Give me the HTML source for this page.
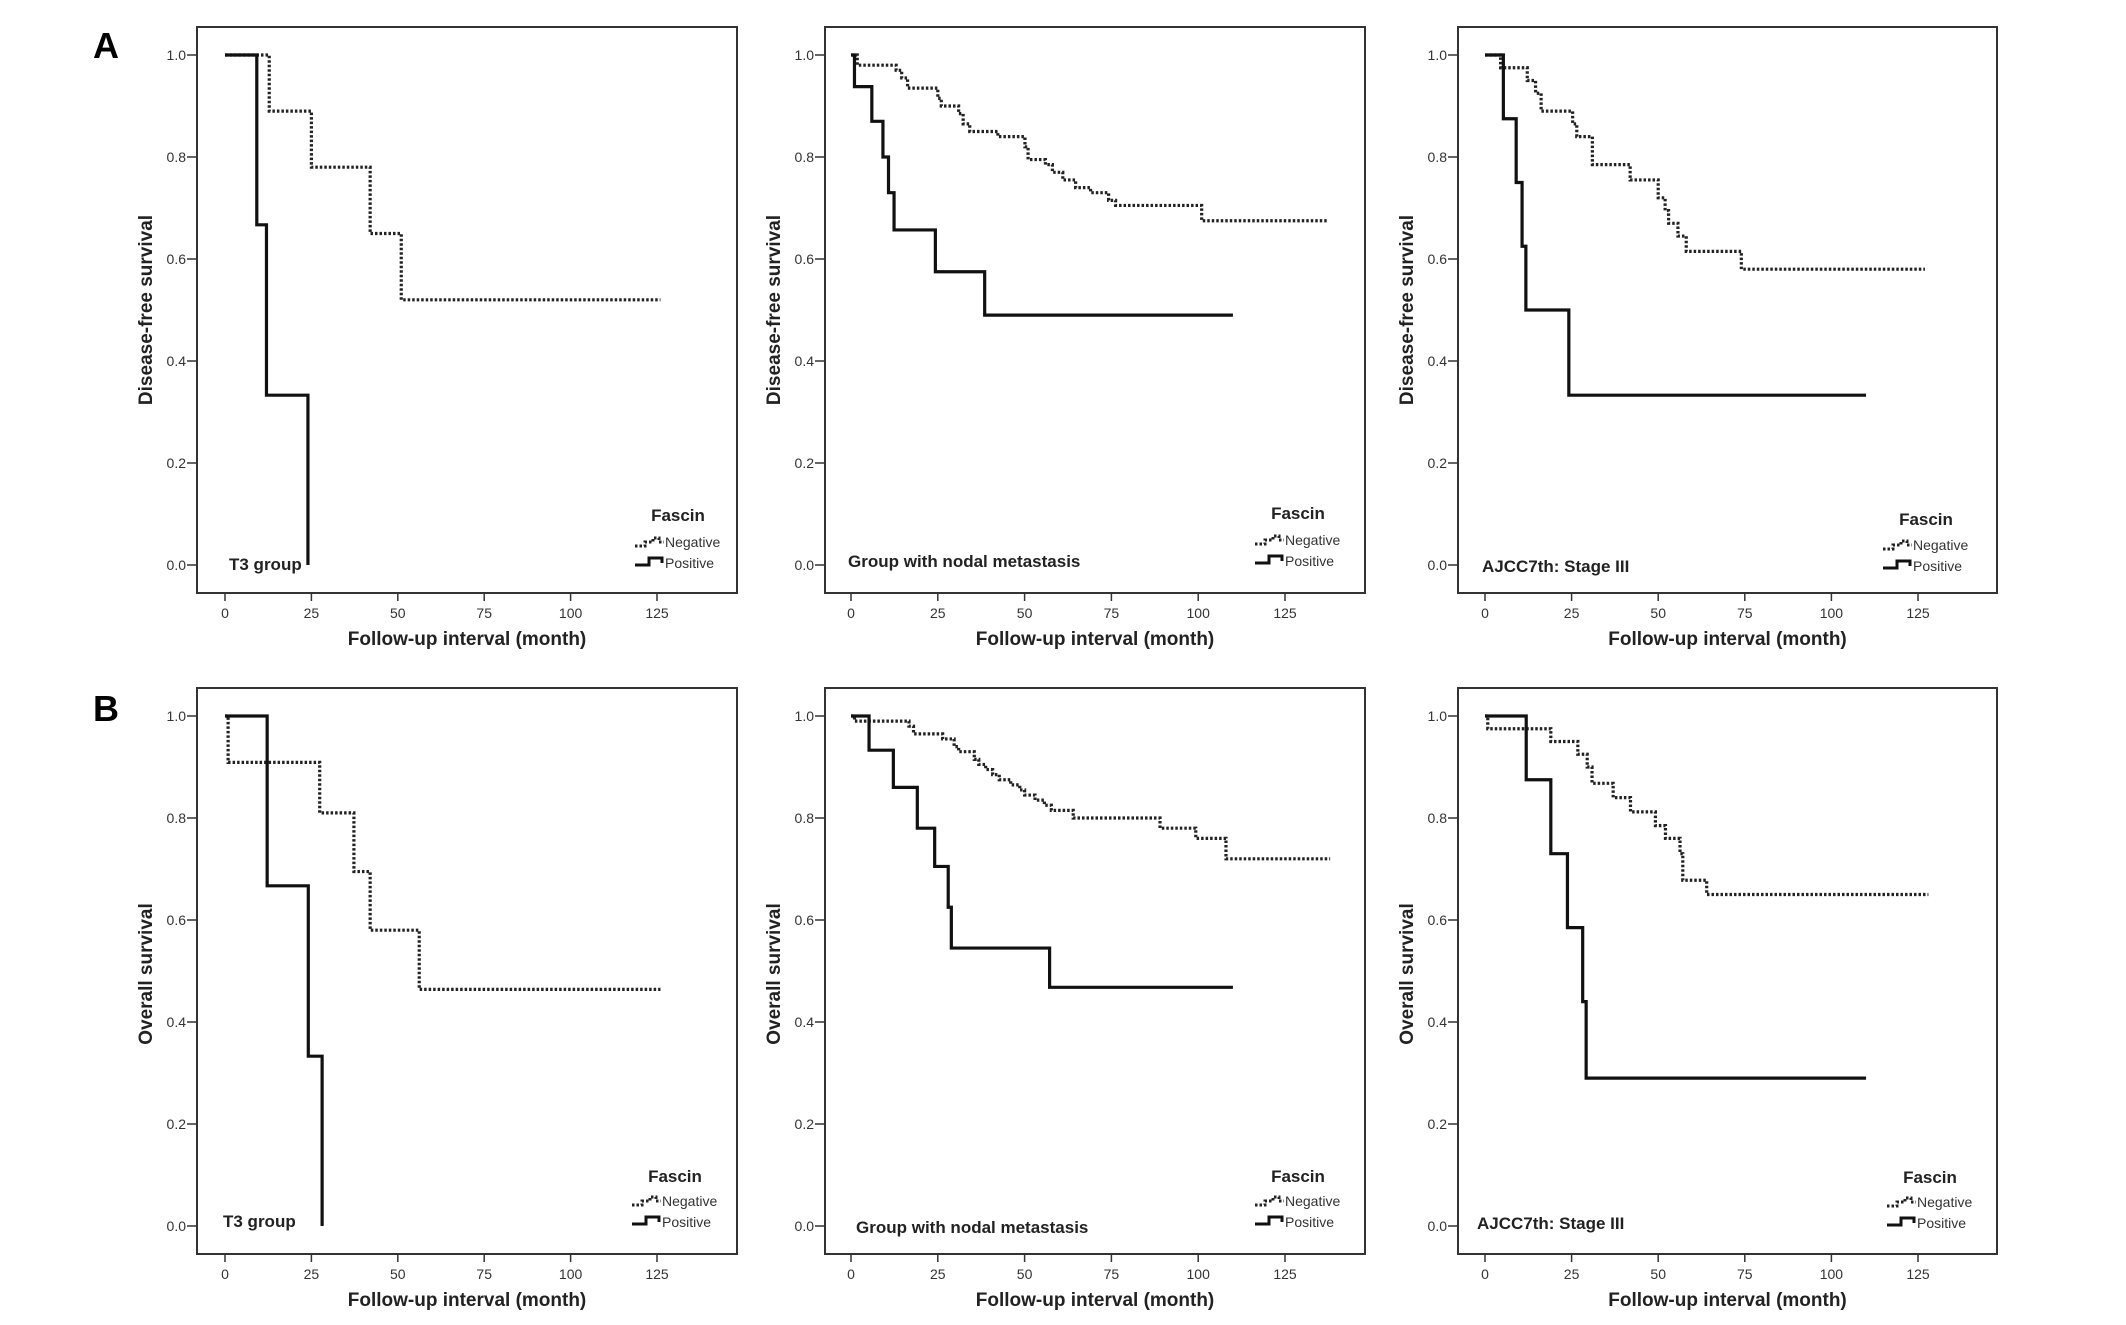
<!DOCTYPE html>
<html><head><meta charset="utf-8"><style>
html,body{margin:0;padding:0;background:#fff}
svg{display:block}
text{font-family:"Liberation Sans",Arial,sans-serif}
</style></head><body>
<svg id="fig" width="2126" height="1325" viewBox="0 0 2126 1325" xmlns="http://www.w3.org/2000/svg">
<rect width="2126" height="1325" fill="#fff"/>
<text x="93" y="58" font-family="Liberation Serif" font-weight="bold" font-size="36">A</text>
<text x="93" y="721" font-family="Liberation Serif" font-weight="bold" font-size="36">B</text>
</svg>
<script>
// ---- data (months, survival) ----
const xTickLabels = [0,25,50,75,100,125];
const yTickLabels = ["0.0","0.2","0.4","0.6","0.8","1.0"];
const yTickValues = [0,0.2,0.4,0.6,0.8,1.0];

const a1NegT = [12.8,25,42,51];           const a1NegS = [0.89,0.78,0.65,0.52];   const a1NegEnd = 126;
const a1PosT = [9.2,12,24];               const a1PosS = [0.667,0.333,0];          const a1PosEnd = 24;
const a2NegT = [1.8,13,14.6,16.3,25,26,31,32.3,34.2,42.3,50.1,51,56,58,61,64.7,69,74.2,76.2,101];
const a2NegS = [0.98,0.97,0.955,0.935,0.915,0.90,0.885,0.865,0.85,0.84,0.82,0.795,0.785,0.77,0.755,0.74,0.73,0.715,0.705,0.675];
const a2NegEnd = 137;
const a2PosT = [1,6,9.2,10.8,12.4,24.3,38.5]; const a2PosS = [0.938,0.87,0.80,0.73,0.657,0.575,0.49]; const a2PosEnd = 110;
const a3NegT = [4.5,12.2,14.6,16.2,25.3,26.5,31,41.9,50,52,53,55.7,58.1,74];
const a3NegS = [0.975,0.95,0.925,0.89,0.865,0.84,0.785,0.755,0.72,0.695,0.67,0.645,0.615,0.58];
const a3NegEnd = 127;
const a3PosT = [5.3,9,10.7,11.8,24.2];    const a3PosS = [0.875,0.75,0.625,0.50,0.333]; const a3PosEnd = 110;
const b1NegT = [0.9,27.4,37.3,42,56.2];   const b1NegS = [0.909,0.81,0.695,0.58,0.464]; const b1NegEnd = 126;
const b1PosT = [12.2,24.1,28.1];          const b1PosS = [0.667,0.333,0];          const b1PosEnd = 28.1;
const b2NegT = [1,16.7,18,26.4,29.7,31,35.5,36.8,38.8,40.8,42.7,46,48.6,50,53,55.7,57.7,64,89,99.3,108];
const b2NegS = [0.99,0.98,0.965,0.955,0.94,0.93,0.915,0.905,0.895,0.885,0.875,0.865,0.855,0.845,0.835,0.825,0.815,0.80,0.78,0.76,0.72];
const b2NegEnd = 138;
const b2PosT = [5.2,12.2,19.1,24.1,28,28.9,57.2]; const b2PosS = [0.933,0.86,0.78,0.705,0.625,0.545,0.468]; const b2PosEnd = 110;
const b3NegT = [0.8,19,26.8,29.5,30.9,37,42,49.2,52.1,56.3,57.1,64];
const b3NegS = [0.975,0.95,0.925,0.90,0.868,0.84,0.812,0.785,0.76,0.73,0.678,0.65];
const b3NegEnd = 128;
const b3PosT = [11.9,19,23.8,28.2,29.2];  const b3PosS = [0.875,0.73,0.585,0.44,0.29]; const b3PosEnd = 110;

// ---- layout ----
const cols = [{L:197,R:737,x0:225,x125:657},{L:825,R:1365,x0:851,x125:1285},{L:1458,R:1997,x0:1485,x125:1918}];
const rows = [{T:27,B:593,y1:55,y0:565,yt:"Disease-free survival",yo:0},{T:688,B:1254,y1:716,y0:1226,yt:"Overall survival",yo:3}];
const panels = [
 {id:"a1",c:0,r:0,grp:"T3 group",gx:229,gy:570,lx:665,ly:[515,546,566],neg:[a1NegT,a1NegS,a1NegEnd],pos:[a1PosT,a1PosS,a1PosEnd]},
 {id:"a2",c:1,r:0,grp:"Group with nodal metastasis",gx:848,gy:567,lx:1285,ly:[513,544,564],neg:[a2NegT,a2NegS,a2NegEnd],pos:[a2PosT,a2PosS,a2PosEnd]},
 {id:"a3",c:2,r:0,grp:"AJCC7th: Stage III",gx:1482,gy:572,lx:1913,ly:[519,549,569],neg:[a3NegT,a3NegS,a3NegEnd],pos:[a3PosT,a3PosS,a3PosEnd]},
 {id:"b1",c:0,r:1,grp:"T3 group",gx:223,gy:1227,lx:662,ly:[1176,1205,1225],neg:[b1NegT,b1NegS,b1NegEnd],pos:[b1PosT,b1PosS,b1PosEnd]},
 {id:"b2",c:1,r:1,grp:"Group with nodal metastasis",gx:856,gy:1233,lx:1285,ly:[1176,1205,1225],neg:[b2NegT,b2NegS,b2NegEnd],pos:[b2PosT,b2PosS,b2PosEnd]},
 {id:"b3",c:2,r:1,grp:"AJCC7th: Stage III",gx:1477,gy:1229,lx:1917,ly:[1177,1206,1226],neg:[b3NegT,b3NegS,b3NegEnd],pos:[b3PosT,b3PosS,b3PosEnd]}
];
const NS="http://www.w3.org/2000/svg";
const svg=document.getElementById('fig');
function mk(tag,attrs,parent){const e=document.createElementNS(NS,tag);for(const k in attrs)e.setAttribute(k,attrs[k]);(parent||svg).appendChild(e);return e;}
function stepPath(T,S,end,xs,ys){
  let d="M"+xs(0)+","+ys(1);
  for(let i=0;i<T.length;i++){d+=" H"+xs(T[i])+" V"+ys(S[i]);}
  if(end>T[T.length-1]) d+=" H"+xs(end);
  return d;
}
panels.forEach(p=>{
  const c=cols[p.c],r=rows[p.r];
  const xs=v=>c.x0+(c.x125-c.x0)*v/125;
  const ys=v=>r.y0+(r.y1-r.y0)*v;
  const g=mk('g',{});
  
  
  const fr=mk('rect',{x:c.L,y:r.T,width:c.R-c.L,height:r.B-r.T,fill:'none',stroke:'#333','stroke-width':2},g);
  
  
  yTickValues.forEach((v,i)=>{
    const y=ys(v);
    const t=mk('line',{x1:c.L-10,x2:c.L,y1:y,y2:y,stroke:'#333','stroke-width':1.5},g);
    
    
    const l=mk('text',{x:c.L-11,y:y+5,'text-anchor':'end','font-size':14,fill:'#333'},g);
    
    
    l.textContent=yTickLabels[i];
  });
  xTickLabels.forEach(v=>{
    const x=xs(v);
    const t=mk('line',{x1:x,x2:x,y1:r.B,y2:r.B+8,stroke:'#333','stroke-width':1.5},g);
    
    
    const l=mk('text',{x:x,y:r.B+25,'text-anchor':'middle','font-size':14,fill:'#333'},g);
    
    
    l.textContent=v;
  });
  const xt=mk('text',{x:(c.L+c.R)/2,y:r.B+52,'text-anchor':'middle','font-size':19,'font-weight':'bold',fill:'#222'},g);
  
  
  xt.textContent="Follow-up interval (month)";
  const ym=(r.T+r.B)/2+r.yo, yx=c.L-45;
  const yt=mk('text',{x:yx,y:ym,'text-anchor':'middle','font-size':19,'font-weight':'bold',fill:'#222',transform:`rotate(-90 ${yx} ${ym})`},g);
  
  
  yt.textContent=r.yt;
  const gl=mk('text',{x:p.gx,y:p.gy,'font-size':17,'font-weight':'bold',fill:'#222'},g);
  
  
  gl.textContent=p.grp;
  const neg=mk('path',{d:stepPath(p.neg[0],p.neg[1],p.neg[2],xs,ys),fill:'none',stroke:'#222','stroke-width':3.2,'stroke-dasharray':'2.5 2'},g);
  
  
  const pos=mk('path',{d:stepPath(p.pos[0],p.pos[1],p.pos[2],xs,ys),fill:'none',stroke:'#111','stroke-width':3.2},g);
  
  
  const lg=mk('g',{},g);
  
  
  const lt=mk('text',{x:p.lx+13,y:p.ly[0]+6,'text-anchor':'middle','font-size':17,'font-weight':'bold',fill:'#222'},lg);
  
  
  lt.textContent="Fascin";
  const sx=p.lx-30;
  const ns=mk('path',{d:`M${sx},${p.ly[1]} H${sx+10} V${p.ly[1]-4} H${sx+18} V${p.ly[1]-8} H${sx+24} V${p.ly[1]-4} H${sx+29}`,fill:'none',stroke:'#222','stroke-width':3,'stroke-dasharray':'2.5 2'},lg);
  
  
  const nt=mk('text',{x:p.lx,y:p.ly[1]+1,'font-size':14,fill:'#333'},lg);
  
  
  nt.textContent="Negative";
  const ps=mk('path',{d:`M${sx},${p.ly[2]-1} H${sx+14} V${p.ly[2]-8} H${sx+27} V${p.ly[2]-3}`,fill:'none',stroke:'#111','stroke-width':3},lg);
  
  
  const pt=mk('text',{x:p.lx,y:p.ly[2]+2,'font-size':14,fill:'#333'},lg);
  
  
  pt.textContent="Positive";
});
</script>
</body></html>
